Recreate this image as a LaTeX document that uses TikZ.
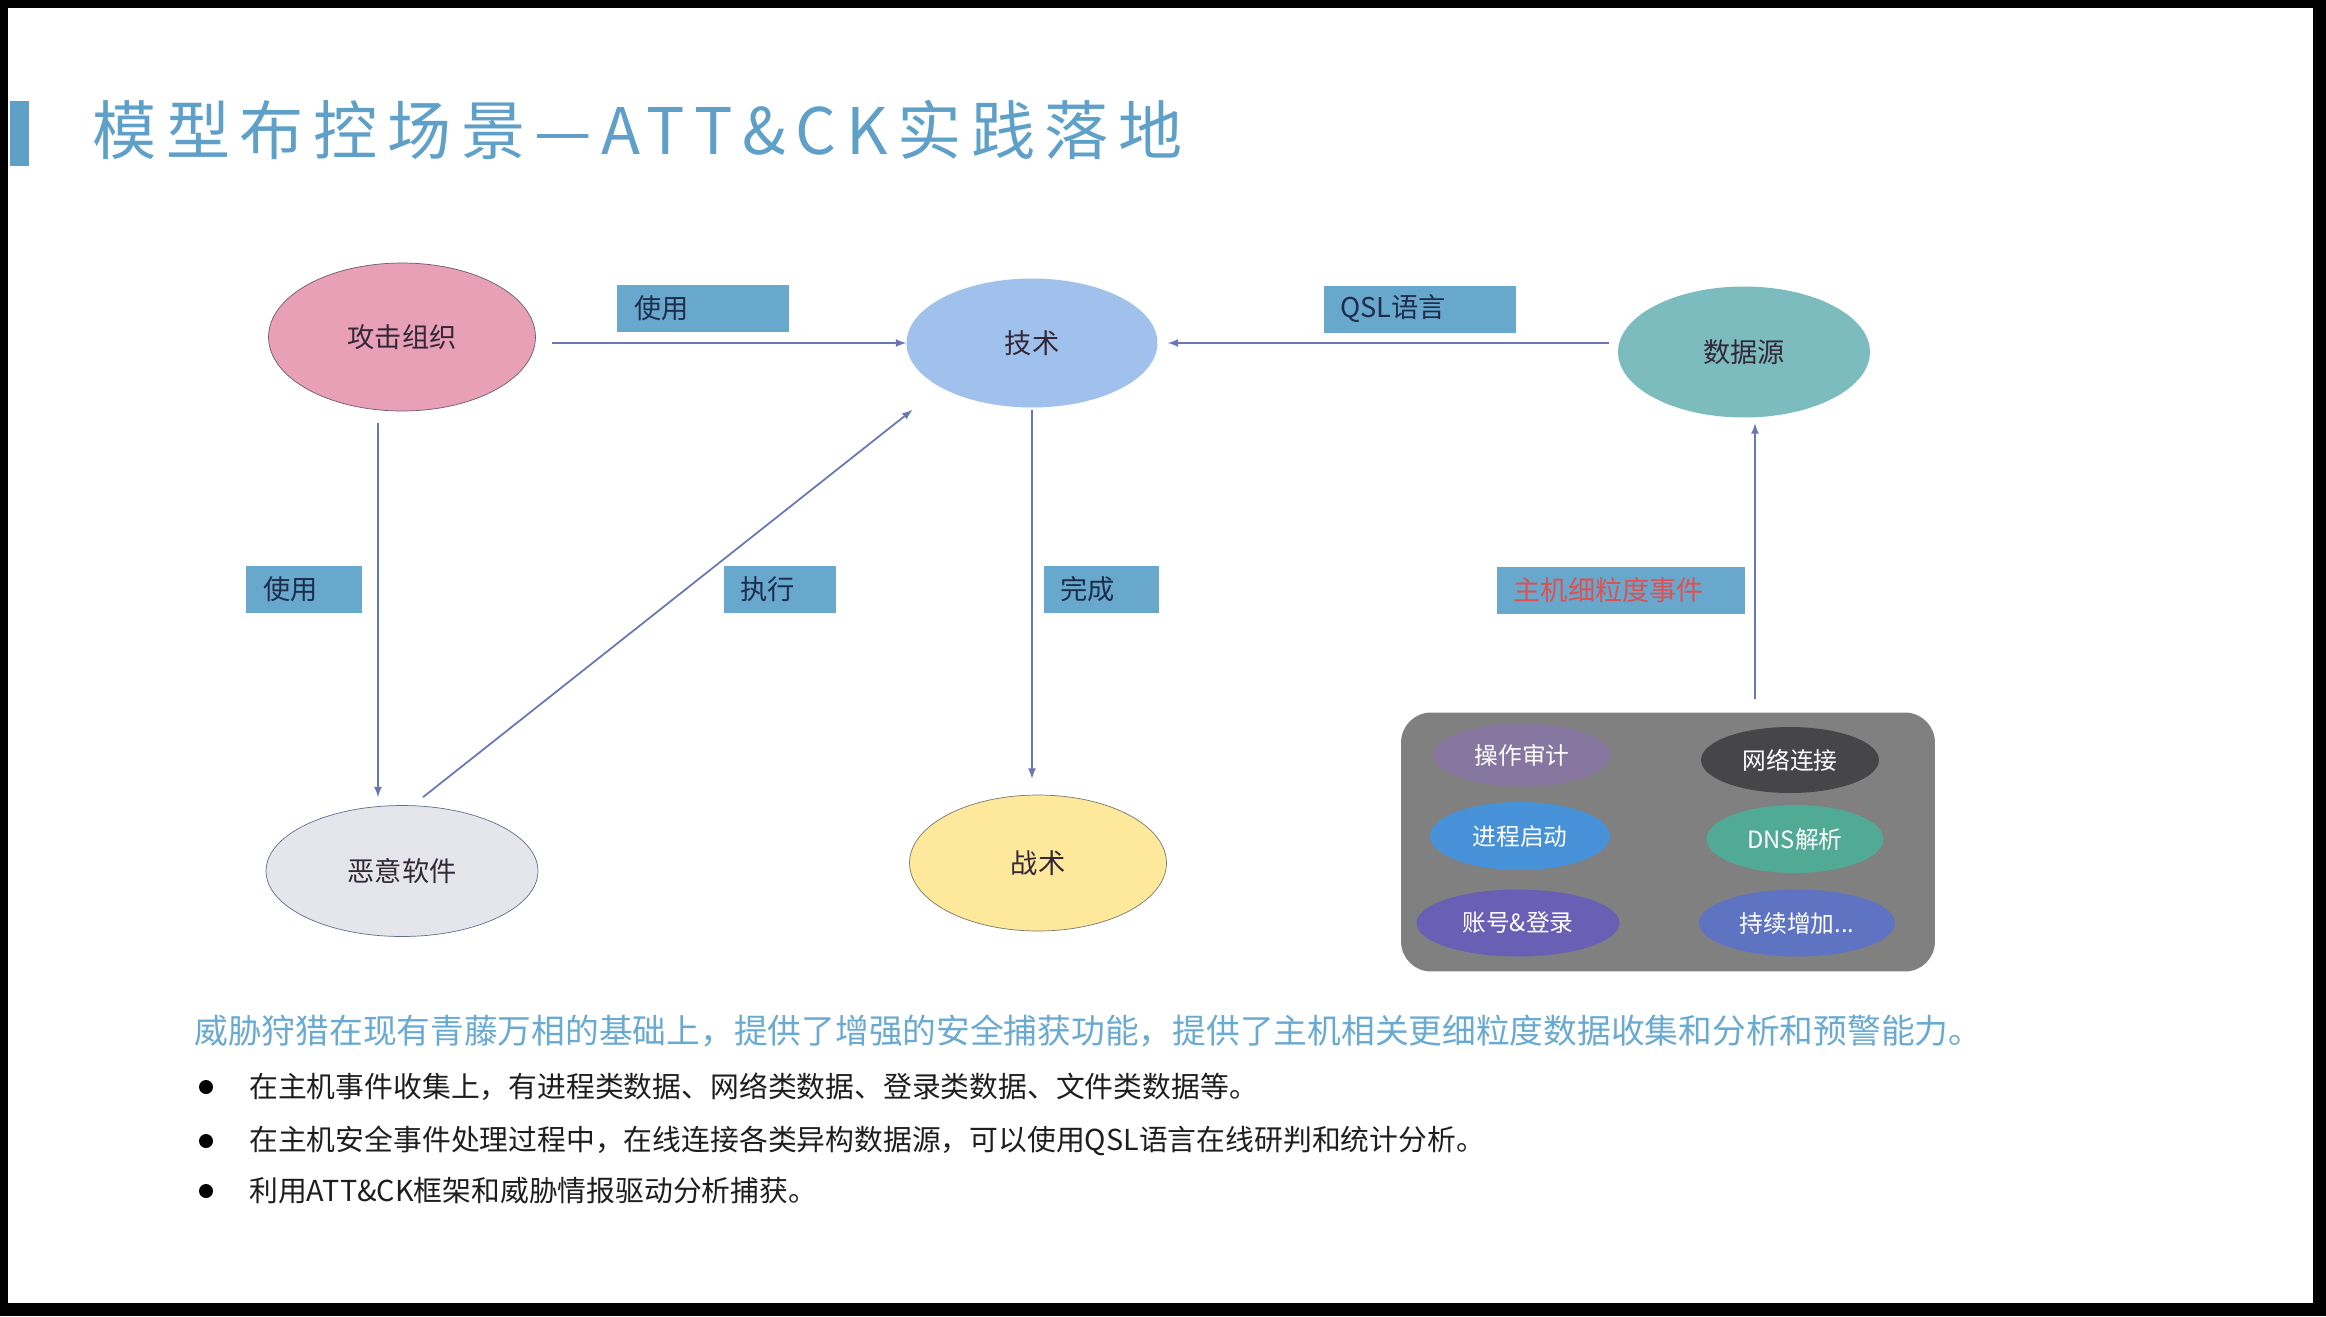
\documentclass[tikz,border=0pt]{standalone}
\usepackage{fontspec}
\setmainfont{Noto Sans CJK SC}
\newfontfamily\titlefont[LetterSpace=15]{Noto Sans CJK SC}
\usetikzlibrary{shapes.geometric}
\definecolor{titleblue}{RGB}{95,160,200}
\definecolor{tagblue}{RGB}{104,168,204}
\definecolor{tagtext}{RGB}{30,45,75}
\definecolor{linkblue}{RGB}{105,120,180}
\definecolor{panelgray}{RGB}{128,128,128}
\definecolor{notetext}{RGB}{105,170,210}
\pgfdeclarelayer{bglayer}
\pgfdeclarelayer{edgelayer}
\pgfdeclarelayer{nodelayer}
\pgfsetlayers{bglayer,edgelayer,nodelayer,main}
\tikzstyle{flow}=[draw=linkblue, line width=1pt, -latex]
\tikzstyle{entity}=[ellipse, inner sep=0pt, text={rgb,255:red,50;green,40;blue,55}, font=\fontsize{15.5pt}{18pt}\selectfont]
\tikzstyle{tag}=[rectangle, fill=tagblue, minimum height=0.94cm, inner xsep=0.34cm, inner ysep=0pt, align=left, text=tagtext, font=\fontsize{15.5pt}{18pt}\selectfont]
\tikzstyle{panel}=[rectangle, rounded corners=0.6cm, fill=panelgray, minimum width=10.68cm, minimum height=5.18cm]
\tikzstyle{event}=[ellipse, inner sep=0pt, text=white, font=\fontsize{13.5pt}{16pt}\selectfont]
\tikzstyle{textline}=[anchor=west, inner sep=0pt, text={rgb,255:red,30;green,30;blue,30}, font=\fontsize{16.4pt}{19pt}\selectfont]
\tikzstyle{dot}=[circle, fill=black, inner sep=0pt, minimum size=0.28cm]

\begin{document}
\begin{tikzpicture}[x=0.02cm, y=-0.02cm]
				\useasboundingbox (0, 0) rectangle (2326, 1316);
				\begin{pgfonlayer}{bglayer}
					\fill [black] (0, 0) rectangle (2326, 1316);
					\fill [white] (8, 8) rectangle (2313, 1303);
					\fill [titleblue] (10, 101) rectangle (29, 166);
				\end{pgfonlayer}
				\begin{pgfonlayer}{nodelayer}
					\node [anchor=west, inner sep=0pt, text=titleblue, font=\titlefont\fontsize{36.5pt}{40pt}\selectfont] (t) at (92, 130) {模型布控场景—ATT\&CK实践落地};
					\node [style=entity, fill={rgb,255:red,232;green,160;blue,182}, draw={rgb,255:red,110;green,90;blue,115}, minimum width=5.34cm, minimum height=2.96cm] (0) at (402, 337) {攻击组织};
					\node [style=entity, fill={rgb,255:red,160;green,193;blue,236}, minimum width=5.02cm, minimum height=2.58cm] (1) at (1032, 343) {技术};
					\node [style=entity, fill={rgb,255:red,125;green,188;blue,190}, minimum width=5.04cm, minimum height=2.62cm] (2) at (1744, 352) {数据源};
					\node [style=entity, fill={rgb,255:red,228;green,230;blue,236}, draw={rgb,255:red,100;green,110;blue,140}, minimum width=5.44cm, minimum height=2.62cm] (3) at (402, 871) {恶意软件};
					\node [style=entity, fill={rgb,255:red,253;green,232;blue,155}, draw={rgb,255:red,120;green,120;blue,110}, minimum width=5.14cm, minimum height=2.72cm] (4) at (1038, 863) {战术};
					\node [style=tag, text width=2.76cm] (5) at (703, 308) {使用};
					\node [style=tag, text width=3.18cm] (6) at (1420, 309) {QSL语言};
					\node [style=tag, text width=1.64cm] (7) at (304, 589) {使用};
					\node [style=tag, text width=1.58cm] (8) at (780, 589) {执行};
					\node [style=tag, text width=1.62cm] (9) at (1101, 589) {完成};
					\node [style=tag, text width=4.30cm, text={rgb,255:red,225;green,80;blue,80}] (10) at (1621, 590) {主机细粒度事件};
					\node [style=panel] (11) at (1668, 842) {};
					\node [style=event, fill={rgb,255:red,135;green,118;blue,160}, minimum width=3.54cm, minimum height=1.26cm] (12) at (1522, 755) {操作审计};
					\node [style=event, fill={rgb,255:red,70;green,70;blue,72}, minimum width=3.56cm, minimum height=1.32cm] (13) at (1790, 760) {网络连接};
					\node [style=event, fill={rgb,255:red,70;green,145;blue,215}, minimum width=3.60cm, minimum height=1.36cm] (14) at (1520, 836) {进程启动};
					\node [style=event, fill={rgb,255:red,80;green,170;blue,150}, minimum width=3.54cm, minimum height=1.36cm] (15) at (1795, 839) {DNS解析};
					\node [style=event, fill={rgb,255:red,105;green,95;blue,180}, minimum width=4.06cm, minimum height=1.34cm] (16) at (1518, 923) {账号\&登录};
					\node [style=event, fill={rgb,255:red,95;green,115;blue,195}, minimum width=3.92cm, minimum height=1.34cm] (17) at (1797, 923) {持续增加...};
					\node [style=textline, text=notetext, font=\fontsize{19.2pt}{22pt}\selectfont] (18) at (194, 1031) {威胁狩猎在现有青藤万相的基础上，提供了增强的安全捕获功能，提供了主机相关更细粒度数据收集和分析和预警能力。};
					\node [style=dot] (19) at (206, 1087) {};
					\node [style=dot] (20) at (206, 1141) {};
					\node [style=dot] (21) at (206, 1191) {};
					\node [style=textline] (22) at (249, 1087) {在主机事件收集上，有进程类数据、网络类数据、登录类数据、文件类数据等。};
					\node [style=textline] (23) at (249, 1141) {在主机安全事件处理过程中，在线连接各类异构数据源，可以使用QSL语言在线研判和统计分析。};
					\node [style=textline] (24) at (249, 1191) {利用ATT\&CK框架和威胁情报驱动分析捕获。};
				\end{pgfonlayer}
				\begin{pgfonlayer}{edgelayer}
					\draw [style=flow, shorten <=0.32cm] (0.east |- 1.west) to (1.west);
					\draw [style=flow, shorten <=0.18cm, shorten >=0.2cm] (2.west |- 1.east) to (1.east);
					\draw [style=flow, shorten <=0.24cm, shorten >=0.16cm] ([xshift=-0.48cm]0.south) to ([xshift=-0.48cm]3.north);
					\draw [style=flow, shorten >=0.72cm] ([xshift=0.42cm, yshift=0.16cm]3.north) to (1.206);
					\draw [style=flow, shorten <=0.04cm, shorten >=0.32cm] (1.south) to (1.south |- 4.north);
					\draw [style=flow, shorten <=0.26cm, shorten >=0.11cm] ([xshift=1.74cm]11.north) to ([xshift=0.22cm]2.south);
				\end{pgfonlayer}
			\end{tikzpicture}
\end{document}
